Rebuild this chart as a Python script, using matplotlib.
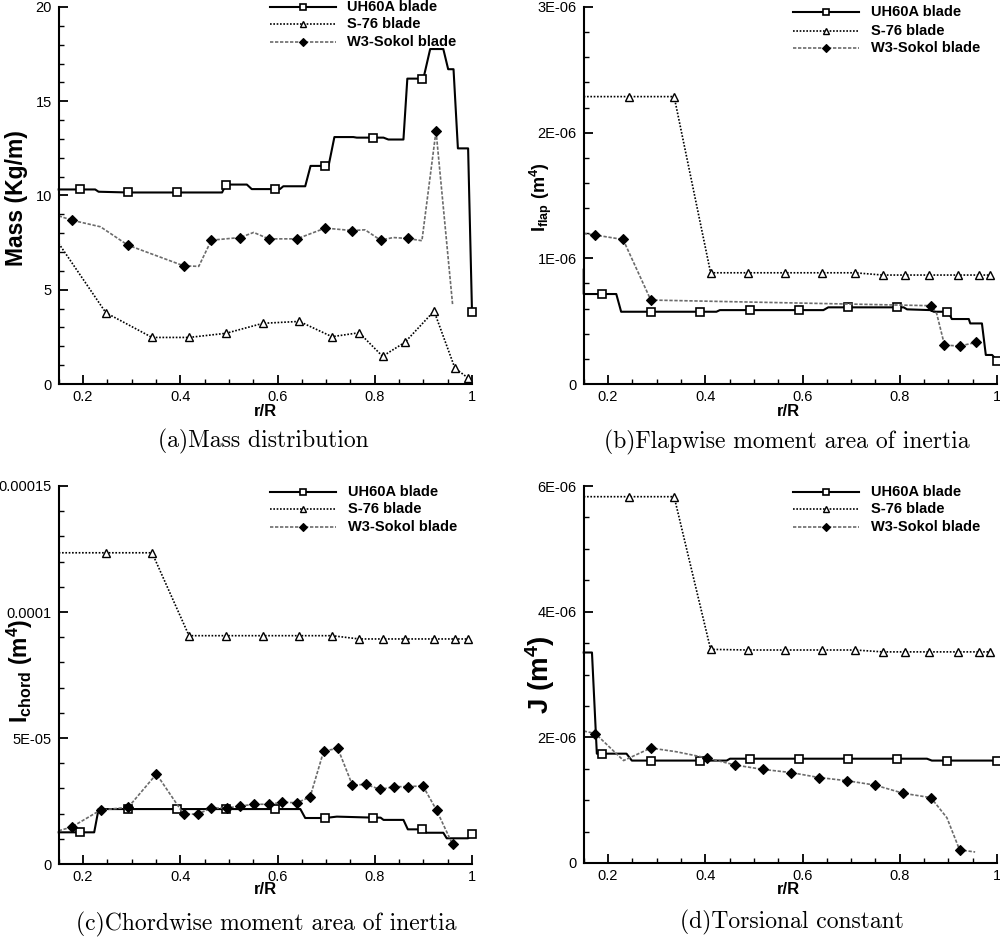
import matplotlib
matplotlib.use('Agg')
import matplotlib.pyplot as plt
from matplotlib.lines import Line2D
from matplotlib.ticker import MultipleLocator, FixedLocator

plt.rcParams['font.family'] = ['Liberation Sans', 'DejaVu Sans']
plt.rcParams['mathtext.fontset'] = 'custom'
plt.rcParams['mathtext.rm'] = 'Liberation Sans'
plt.rcParams['mathtext.bf'] = 'Liberation Sans:bold'
plt.rcParams['mathtext.it'] = 'Liberation Sans:italic'

series_names = ['UH60A blade', 'S-76 blade', 'W3-Sokol blade']

# ---------------- (a) Mass distribution (kg/m) ----------------
ua_x = [0.150, 0.193, 0.225, 0.232, 0.293, 0.394, 0.486, 0.494, 0.537, 0.547, 0.595, 0.605, 0.612,
        0.657, 0.668, 0.697, 0.705, 0.717, 0.756, 0.763, 0.797, 0.818, 0.828, 0.859, 0.867, 0.897,
        0.900, 0.914, 0.941, 0.951, 0.962, 0.971, 0.992, 1.000]
ua_y = [10.32, 10.32, 10.32, 10.20, 10.16, 10.16, 10.16, 10.58, 10.58, 10.34, 10.34, 10.34, 10.49,
        10.49, 11.57, 11.57, 11.57, 13.10, 13.10, 13.07, 13.07, 13.07, 12.97, 12.97, 16.20, 16.20,
        16.20, 17.77, 17.77, 16.70, 16.70, 12.50, 12.50, 3.83]
ua_m = [1, 4, 5, 7, 10, 15, 20, 25, 33]
sa_x = [0.150, 0.247, 0.342, 0.418, 0.494, 0.570, 0.645, 0.712, 0.768, 0.816, 0.862, 0.922, 0.965, 0.991]
sa_y = [7.46, 3.78, 2.47, 2.47, 2.69, 3.22, 3.32, 2.51, 2.72, 1.47, 2.21, 3.87, 0.83, 0.34]
sa_m = list(range(1, 14))
wa_x = [0.150, 0.177, 0.236, 0.292, 0.407, 0.438, 0.464, 0.523, 0.551, 0.582, 0.640, 0.698, 0.754,
        0.780, 0.812, 0.838, 0.868, 0.897, 0.926, 0.960]
wa_y = [8.92, 8.69, 8.34, 7.37, 6.27, 6.24, 7.63, 7.77, 8.04, 7.70, 7.70, 8.27, 8.14, 8.18, 7.63,
        7.77, 7.72, 7.60, 13.43, 4.24]
wa_m = [1, 3, 4, 6, 7, 9, 10, 11, 12, 14, 16, 18]

# ---------------- (b) Flapwise moment (x1E-06 m^4) ----------------
ub_x = [0.150, 0.150, 0.188, 0.217, 0.227, 0.289, 0.390, 0.423, 0.430, 0.492, 0.593, 0.643, 0.653,
        0.694, 0.795, 0.808, 0.815, 0.863, 0.870, 0.897, 0.900, 0.907, 0.942, 0.945, 0.969, 0.977,
        0.990, 1.000]
ub_y = [0.910, 0.716, 0.716, 0.716, 0.575, 0.575, 0.575, 0.575, 0.588, 0.588, 0.588, 0.588, 0.610,
        0.610, 0.610, 0.610, 0.594, 0.588, 0.575, 0.575, 0.575, 0.517, 0.517, 0.482, 0.482, 0.231,
        0.231, 0.186]
ub_m = [2, 5, 6, 9, 10, 13, 14, 19, 27]
sb_x = [0.150, 0.243, 0.336, 0.411, 0.488, 0.565, 0.641, 0.708, 0.765, 0.811, 0.861, 0.920, 0.962, 0.986]
sb_y = [2.287, 2.287, 2.287, 0.885, 0.885, 0.885, 0.885, 0.885, 0.867, 0.867, 0.867, 0.867, 0.867, 0.867]
sb_m = list(range(1, 14))
wb_x = [0.150, 0.174, 0.231, 0.288, 0.865, 0.876, 0.892, 0.923, 0.957]
wb_y = [1.198, 1.185, 1.150, 0.668, 0.623, 0.560, 0.310, 0.302, 0.331]
wb_m = [1, 2, 3, 4, 6, 7, 8]

# ---------------- (c) Chordwise moment (x1E-05 m^4) ----------------
uc_x = [0.150, 0.193, 0.223, 0.232, 0.293, 0.394, 0.494, 0.595, 0.647, 0.657, 0.698, 0.722, 0.797,
        0.812, 0.818, 0.859, 0.868, 0.898, 0.907, 0.941, 0.948, 0.992, 1.000]
uc_y = [1.257, 1.257, 1.257, 2.180, 2.180, 2.180, 2.180, 2.180, 2.180, 1.825, 1.825, 1.880, 1.840,
        1.840, 1.750, 1.750, 1.375, 1.375, 1.240, 1.240, 1.020, 1.020, 1.180]
uc_m = [1, 4, 5, 6, 7, 10, 12, 17, 22]
sc_x = [0.150, 0.247, 0.342, 0.418, 0.494, 0.570, 0.645, 0.712, 0.768, 0.816, 0.862, 0.922, 0.965, 0.991]
sc_y = [12.35, 12.35, 12.35, 9.06, 9.06, 9.06, 9.06, 9.06, 8.93, 8.93, 8.93, 8.93, 8.93, 8.93]
sc_m = list(range(1, 14))
wc_x = [0.150, 0.177, 0.236, 0.293, 0.351, 0.407, 0.436, 0.464, 0.496, 0.523, 0.552, 0.582, 0.610,
        0.640, 0.667, 0.695, 0.724, 0.754, 0.782, 0.811, 0.840, 0.868, 0.899, 0.927, 0.960]
wc_y = [1.32, 1.47, 2.14, 2.25, 3.57, 1.98, 1.98, 2.22, 2.22, 2.30, 2.37, 2.37, 2.45, 2.43, 2.66,
        4.48, 4.59, 3.13, 3.16, 2.96, 3.07, 3.07, 3.10, 2.14, 0.78]
wc_m = list(range(1, 25))

# ---------------- (d) Torsional constant (x1E-06 m^4) ----------------
ud_x = [0.150, 0.167, 0.177, 0.188, 0.238, 0.249, 0.289, 0.390, 0.444, 0.451, 0.492, 0.593, 0.694,
        0.795, 0.856, 0.866, 0.897, 1.000]
ud_y = [3.35, 3.35, 1.74, 1.74, 1.74, 1.63, 1.63, 1.63, 1.63, 1.66, 1.66, 1.66, 1.66, 1.66, 1.66,
        1.63, 1.63, 1.63]
ud_m = [3, 6, 7, 10, 11, 12, 13, 16, 17]
sd_x = [0.150, 0.243, 0.336, 0.411, 0.488, 0.565, 0.641, 0.708, 0.765, 0.811, 0.861, 0.920, 0.962, 0.986]
sd_y = [5.83, 5.83, 5.83, 3.40, 3.39, 3.39, 3.39, 3.39, 3.36, 3.36, 3.36, 3.36, 3.36, 3.36]
sd_m = list(range(1, 14))
wd_x = [0.150, 0.174, 0.232, 0.288, 0.341, 0.404, 0.461, 0.518, 0.576, 0.634, 0.691, 0.749, 0.807,
        0.864, 0.897, 0.923, 0.955]
wd_y = [2.10, 2.06, 1.63, 1.83, 1.77, 1.67, 1.56, 1.49, 1.44, 1.36, 1.31, 1.24, 1.11, 1.04, 0.72,
        0.21, 0.175]
wd_m = [1, 3, 5, 6, 7, 8, 9, 10, 11, 12, 13, 15]

x_ticks = [0.2, 0.4, 0.6, 0.8, 1.0]
x_ticklabels = ['0.2', '0.4', '0.6', '0.8', '1']

styles = {
    'UH60A blade': dict(color='black', ls='-', lw=1.5, marker='s', ms=5.6, mfc='white',
                        mec='black', mew=1.2),
    'S-76 blade': dict(color='black', ls=(0, (1, 1)), lw=1.2, marker='^', ms=5.5, mfc='white',
                       mec='black', mew=1.0),
    'W3-Sokol blade': dict(color='0.42', ls=(0, (2, 1)), lw=1.2, marker='D', ms=4.6, mfc='black',
                           mec='black', mew=0.8),
}
legend_ms = {'UH60A blade': 4.2, 'S-76 blade': 4.5, 'W3-Sokol blade': 3.8}

W, H = 1000, 939
fig = plt.figure(figsize=(10, 9.39), dpi=100)

panels = [
    dict(rect=[58.7, 384, 472, 7], scale=1.0,
         data=[(ua_x, ua_y, ua_m), (sa_x, sa_y, sa_m), (wa_x, wa_y, wa_m)],
         ylim=20, yticks=[0, 5, 10, 15, 20], yticklabels=['0', '5', '10', '15', '20'], yminor=1,
         ylabel='Mass (Kg/m)', ylabel_pos=(17, 198), ylabel_size=16.5,
         xlabel_pos=(265, 411), leg_x=(270, 303, 336, 347), leg_y=(7, 24, 42),
         caption='(a)Mass distribution', cap_pos=(263, 441)),
    dict(rect=[583.7, 384, 997, 7], scale=1e-6,
         data=[(ub_x, ub_y, ub_m), (sb_x, sb_y, sb_m), (wb_x, wb_y, wb_m)],
         ylim=3, yticks=[0, 1, 2, 3], yticklabels=['0', '1E-06', '2E-06', '3E-06'], yminor=0.2,
         ylabel=r'$\mathbf{I_{flap}\ (m^4)}$', ylabel_pos=(541, 197), ylabel_size=13,
         xlabel_pos=(788, 411), leg_x=(793, 826, 859, 871), leg_y=(12, 31, 48),
         caption='(b)Flapwise moment area of inertia', cap_pos=(787, 442)),
    dict(rect=[58.7, 864, 472, 486], scale=1e-5,
         data=[(uc_x, uc_y, uc_m), (sc_x, sc_y, sc_m), (wc_x, wc_y, wc_m)],
         ylim=15, yticks=[0, 5, 10, 15], yticklabels=['0', '5E-05', '0.0001', '0.00015'], yminor=1,
         ylabel=r'$\mathbf{I_{chord}\ (m^4)}$', ylabel_pos=(20, 671), ylabel_size=16.5,
         xlabel_pos=(265, 889), leg_x=(270, 303, 336, 348), leg_y=(492, 509, 527),
         caption='(c)Chordwise moment area of inertia', cap_pos=(266, 924)),
    dict(rect=[583.7, 863, 997, 486], scale=1e-6,
         data=[(ud_x, ud_y, ud_m), (sd_x, sd_y, sd_m), (wd_x, wd_y, wd_m)],
         ylim=6, yticks=[0, 2, 4, 6], yticklabels=['0', '2E-06', '4E-06', '6E-06'], yminor=0.5,
         ylabel=r'$\mathbf{J\ (m^4)}$', ylabel_pos=(540, 675), ylabel_size=20,
         xlabel_pos=(788, 889), leg_x=(793, 826, 859, 871), leg_y=(492, 509, 527),
         caption='(d)Torsional constant', cap_pos=(792, 922)),
]

for p in panels:
    l, b, r, t = p['rect']
    ax = fig.add_axes([l / W, 1 - b / H, (r - l) / W, (b - t) / H])
    s = p['scale']
    for name, (xs, ys, mk) in zip(series_names, p['data']):
        ax.plot(xs, [v * s for v in ys], markevery=mk, clip_on=False, **styles[name])
    ax.set_xlim(0.15, 1.0)
    ax.set_ylim(0, p['ylim'] * s)
    ax.xaxis.set_major_locator(FixedLocator(x_ticks))
    ax.set_xticklabels(x_ticklabels)
    ax.xaxis.set_minor_locator(MultipleLocator(0.05))
    ax.yaxis.set_major_locator(FixedLocator([v * s for v in p['yticks']]))
    ax.set_yticklabels(p['yticklabels'])
    ax.yaxis.set_minor_locator(MultipleLocator(p['yminor'] * s))
    for sp in ['top', 'right']:
        ax.spines[sp].set_visible(False)
    for sp in ['left', 'bottom']:
        ax.spines[sp].set_linewidth(1.5)
    ax.tick_params(which='major', direction='in', length=6.5, width=1.3, labelsize=10.5,
                   colors='black')
    ax.tick_params(axis='x', which='major', pad=4)
    ax.tick_params(axis='y', which='major', pad=5)
    ax.tick_params(which='minor', direction='in', length=3.5, width=1.0)
    ax.patch.set_alpha(0)

    # axis labels
    fig.text(p['ylabel_pos'][0] / W, 1 - p['ylabel_pos'][1] / H, p['ylabel'], rotation=90,
             ha='center', va='center', fontsize=p['ylabel_size'], fontweight='bold')
    fig.text(p['xlabel_pos'][0] / W, 1 - p['xlabel_pos'][1] / H, 'r/R', ha='center', va='center',
             fontsize=12, fontweight='bold')

    # legend
    x0, xm, x1, xt = p['leg_x']
    for name, yy in zip(series_names, p['leg_y']):
        yf = 1 - yy / H
        st = dict(styles[name])
        st['ms'] = legend_ms[name]
        fig.add_artist(Line2D([x0 / W, xm / W, x1 / W], [yf, yf, yf], transform=fig.transFigure,
                              markevery=[1], **st))
        fig.text(xt / W, yf, name, ha='left', va='center', fontsize=10.5, fontweight='bold')

    # caption
    fig.text(p['cap_pos'][0] / W, 1 - p['cap_pos'][1] / H, p['caption'], ha='center', va='center',
             fontsize=17, fontfamily='cmr10')

fig.savefig('out.png', dpi=100)
